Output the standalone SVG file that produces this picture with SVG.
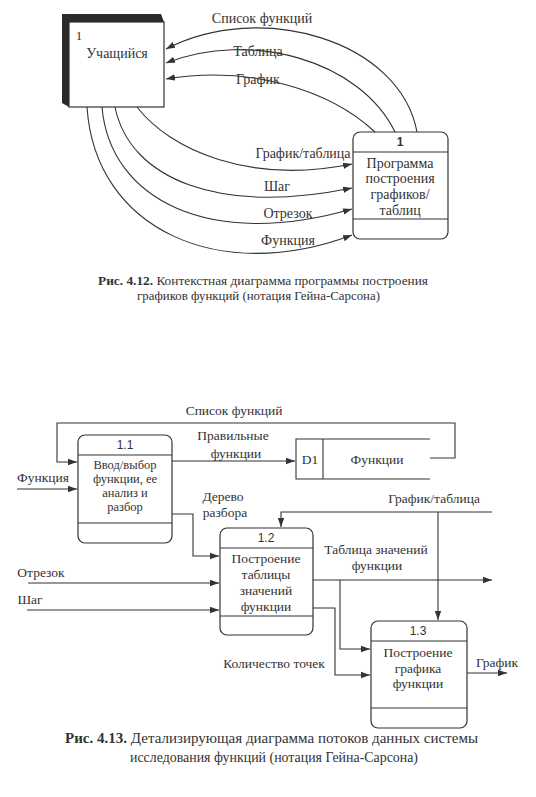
<svg xmlns="http://www.w3.org/2000/svg" width="536" height="797" viewBox="0 0 536 797">
<defs>
<marker id="arr" markerUnits="userSpaceOnUse" markerWidth="10" markerHeight="8" refX="9" refY="4" orient="auto">
<path d="M0,0.8 L9,4 L0,7.2 z" fill="#333"/>
</marker>
<style>
.ln{fill:none;stroke:#333;stroke-width:1.1;}
.ar{marker-end:url(#arr);}
.box{fill:#fff;stroke:#333;stroke-width:1.2;}
.t{font-family:"Liberation Serif","DejaVu Serif","Times New Roman",serif;font-size:14px;fill:#333;text-anchor:middle;}
.b{font-size:13.5px;}
.s{font-family:"Liberation Sans",Arial,sans-serif;font-size:12px;fill:#333;text-anchor:middle;}
.cap{font-family:"Liberation Serif","DejaVu Serif","Times New Roman",serif;fill:#333;}
</style>
</defs>
<rect width="536" height="797" fill="#fff"/>

<!-- Top diagram -->
<g id="ext1">
<polygon points="62,14 161,14 164,22 69,22 69,107 62,103" fill="#2a2a2a"/>
<rect x="69" y="22" width="95" height="85" class="box"/>
<text x="79" y="40" class="t" style="font-size:13px">1</text>
<text x="117" y="58" class="t">Учащийся</text>
</g>
<g id="p1">
<rect x="353" y="132" width="95" height="107" rx="7" class="box"/>
<line x1="353" y1="152" x2="448" y2="152" class="ln"/>
<line x1="353" y1="219" x2="448" y2="219" class="ln"/>
<text x="400" y="146" class="s" style="font-weight:bold">1</text>
<text x="400" y="168" class="t">Программа</text>
<text x="400" y="183" class="t">построения</text>
<text x="400" y="199" class="t">графиков/</text>
<text x="400" y="215" class="t">таблиц</text>
</g>
<g id="top-connectors">
<path d="M417,132 C400,40 260,0 166,49" class="ln ar"/>
<path d="M395,132 C360,60 250,30 166,63" class="ln ar"/>
<path d="M375,132 C330,90 250,65 166,79" class="ln ar"/>
<path d="M87,107 C95,230 220,285 352,235" class="ln ar"/>
<path d="M102,107 C110,200 210,250 352,209" class="ln ar"/>
<path d="M115,107 C130,180 220,215 352,188" class="ln ar"/>
<path d="M137,107 C170,150 250,185 352,164" class="ln ar"/>
<text x="262" y="23" class="t">Список функций</text>
<text x="258" y="56" class="t">Таблица</text>
<text x="258" y="84" class="t">График</text>
<text x="303" y="158" class="t">График/таблица</text>
<text x="277" y="191" class="t">Шаг</text>
<text x="288" y="218" class="t">Отрезок</text>
<text x="288" y="245" class="t">Функция</text>
</g>
<g id="cap1">
<text x="98" y="285" class="cap" style="font-size:13px" textLength="330" lengthAdjust="spacingAndGlyphs"><tspan font-weight="bold">Рис. 4.12.</tspan> Контекстная диаграмма программы построения</text>
<text x="137" y="300" class="cap" style="font-size:13px" textLength="243" lengthAdjust="spacingAndGlyphs">графиков функций (нотация Гейна-Сарсона)</text>
</g>

<!-- Bottom diagram -->
<g id="p11">
<rect x="78" y="435" width="94" height="108" rx="7" class="box"/>
<line x1="78" y1="455" x2="172" y2="455" class="ln"/>
<line x1="78" y1="523" x2="172" y2="523" class="ln"/>
<text x="125" y="449" class="s">1.1</text>
<text x="125" y="469" class="t" style="font-size:12.5px">Ввод/выбор</text>
<text x="125" y="483" class="t" style="font-size:12.5px">функции, ее</text>
<text x="125" y="497" class="t" style="font-size:12.5px">анализ и</text>
<text x="125" y="511" class="t" style="font-size:12.5px">разбор</text>
</g>
<g id="d1">
<path d="M430,439 H296 V479 H430" class="ln"/>
<line x1="323" y1="439" x2="323" y2="479" class="ln"/>
<text x="310" y="464" class="t b">D1</text>
<text x="377" y="464" class="t b">Функции</text>
</g>
<g id="p12">
<rect x="220" y="528" width="93" height="107" rx="7" class="box"/>
<line x1="220" y1="548" x2="313" y2="548" class="ln"/>
<line x1="220" y1="616" x2="313" y2="616" class="ln"/>
<text x="266" y="542" class="s">1.2</text>
<text x="266" y="563" class="t b">Построение</text>
<text x="266" y="579" class="t b">таблицы</text>
<text x="266" y="595" class="t b">значений</text>
<text x="266" y="611" class="t b">функции</text>
</g>
<g id="p13">
<rect x="371" y="621" width="96" height="107" rx="7" class="box"/>
<line x1="371" y1="641" x2="467" y2="641" class="ln"/>
<line x1="371" y1="708" x2="467" y2="708" class="ln"/>
<text x="418" y="635" class="s">1.3</text>
<text x="418" y="657" class="t b">Построение</text>
<text x="418" y="673" class="t b">графика</text>
<text x="418" y="688" class="t b">функции</text>
</g>
<g id="bottom-connectors">
<path d="M430,458 H455 V423 H57 V462 H77" class="ln ar"/>
<path d="M17,489 H77" class="ln ar"/>
<path d="M172,461 H295" class="ln ar"/>
<path d="M172,514 H193 V556 H219" class="ln ar"/>
<path d="M492,512 H281 V527" class="ln ar"/>
<path d="M438,512 V620" class="ln ar"/>
<path d="M313,580 H492" class="ln ar"/>
<path d="M340,580 V649 H370" class="ln ar"/>
<path d="M28,583 H219" class="ln ar"/>
<path d="M27,610 H219" class="ln ar"/>
<path d="M313,608 H335 V675 H370" class="ln ar"/>
<path d="M467,673 H507" class="ln ar"/>
<text x="234" y="415" class="t b">Список функций</text>
<text x="233" y="440" class="t b">Правильные</text>
<text x="236" y="458" class="t b">функции</text>
<text x="43" y="482" class="t b">Функция</text>
<text x="223" y="501" class="t b">Дерево</text>
<text x="225" y="517" class="t b">разбора</text>
<text x="434" y="503" class="t b">График/таблица</text>
<text x="376" y="554" class="t b">Таблица значений</text>
<text x="377" y="570" class="t b">функции</text>
<text x="41" y="577" class="t b">Отрезок</text>
<text x="30" y="604" class="t b">Шаг</text>
<text x="274" y="668" class="t b">Количество точек</text>
<text x="497" y="667" class="t b">График</text>
</g>
<g id="cap2">
<text x="65" y="743" class="cap" style="font-size:15px" textLength="413" lengthAdjust="spacingAndGlyphs"><tspan font-weight="bold">Рис. 4.13.</tspan> Детализирующая диаграмма потоков данных системы</text>
<text x="130" y="762" class="cap" style="font-size:15px" textLength="288" lengthAdjust="spacingAndGlyphs">исследования функций (нотация Гейна-Сарсона)</text>
</g>
</svg>
